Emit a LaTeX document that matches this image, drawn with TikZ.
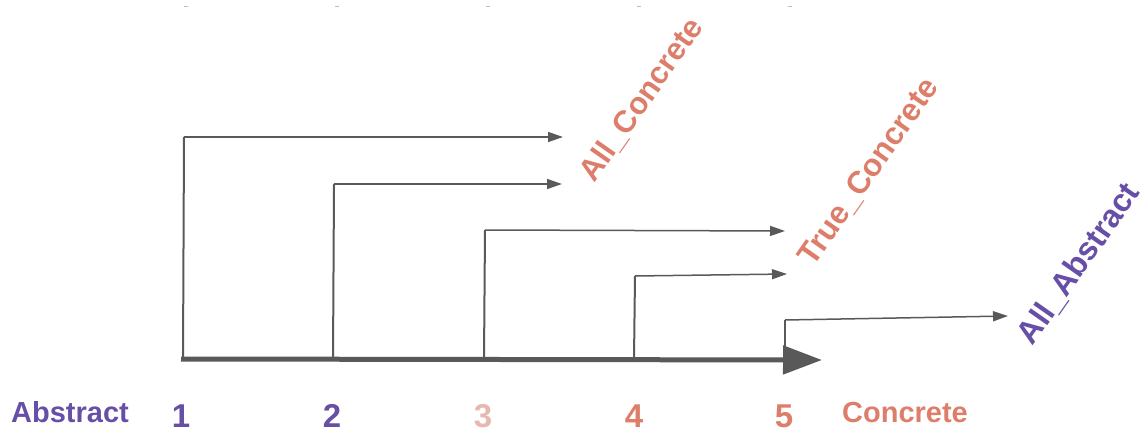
\documentclass[tikz,border=0pt]{standalone}
\usepackage{fontspec}
\setmainfont{Liberation Sans}
\usetikzlibrary{arrows.meta}
\definecolor{abstractpurple}{HTML}{674EA7}
\definecolor{concreteorange}{HTML}{DD7E6B}
\definecolor{midpink}{HTML}{E6B8AF}
\definecolor{linegray}{HTML}{595959}
\definecolor{tickgray}{HTML}{BDBDBD}
\tikzset{
  axisline/.style={draw=linegray, line width=5pt,
    -{Triangle[length=39pt,width=28pt]}, fill=linegray},
  riser/.style={draw=linegray, line width=2pt},
  branch/.style={draw=linegray, line width=1.5pt,
    -{Triangle[length=15pt,width=10pt]}},
  tag/.style={font=\bfseries\fontsize{29}{34}\selectfont, inner sep=0pt},
  slanttag/.style={inner sep=0pt, rotate=55},
  level/.style={font=\bfseries\fontsize{33}{38}\selectfont, inner sep=0pt, anchor=base},
  tick/.style={draw=tickgray, line width=1pt}
}
\begin{document}
\begin{tikzpicture}[x=1pt, y=-1pt]
\useasboundingbox (0,0) rectangle (1148,433);

% faint marks along the top edge
\foreach \tx/\tn in {186/1,337/2,488/3,639/4,790/5}{
  \coordinate (ta\tn) at (\tx-2,7);
  \coordinate (tb\tn) at (\tx+2,7);
  \draw[tick] (ta\tn) -- (tb\tn);
}

% points on the axis, corners and arrow ends
\coordinate (start) at (181,359);
\coordinate (stop)  at (822,360);
\coordinate (b1) at (183,359); \coordinate (c1) at (184,137); \coordinate (e1) at (563,137);
\coordinate (b2) at (333,359); \coordinate (c2) at (334,184); \coordinate (e2) at (562,184);
\coordinate (b3) at (484,359); \coordinate (c3) at (485,230); \coordinate (e3) at (785,231);
\coordinate (b4) at (634,359); \coordinate (c4) at (635,276); \coordinate (e4) at (787,274);
\coordinate (b5) at (785,359); \coordinate (c5) at (785,320); \coordinate (e5) at (1008,316);

% risers and branches
\foreach \i in {1,...,5}{
  \draw[riser] (b\i) -- (c\i);
  \draw[branch] (c\i) -- (e\i);
}

% main axis
\draw[axisline] (start) -- (stop);

% slanted outcome labels
\node[slanttag, text=concreteorange, font=\bfseries\fontsize{31}{36}\selectfont]
  (allconcrete) at (642,100) {All\_Concrete};
\node[slanttag, text=concreteorange, font=\bfseries\fontsize{31.5}{36}\selectfont]
  (trueconcrete) at (869,172) {True\_Concrete};
\node[slanttag, text=abstractpurple, font=\bfseries\fontsize{32}{37}\selectfont]
  (allabstract) at (1079,264) {All\_Abstract};

% scale along the bottom
\node[tag, anchor=base, text=abstractpurple] (abstract) at (70,422) {Abstract};
\node[level, text=abstractpurple] (l1) at (181,427) {1};
\node[level, text=abstractpurple] (l2) at (332,427) {2};
\node[level, text=midpink] (l3) at (483,427) {3};
\node[level, text=concreteorange] (l4) at (634,427) {4};
\node[level, text=concreteorange] (l5) at (784,427) {5};
\node[tag, anchor=base, text=concreteorange] (concrete) at (905,422) {Concrete};
\end{tikzpicture}
\end{document}
